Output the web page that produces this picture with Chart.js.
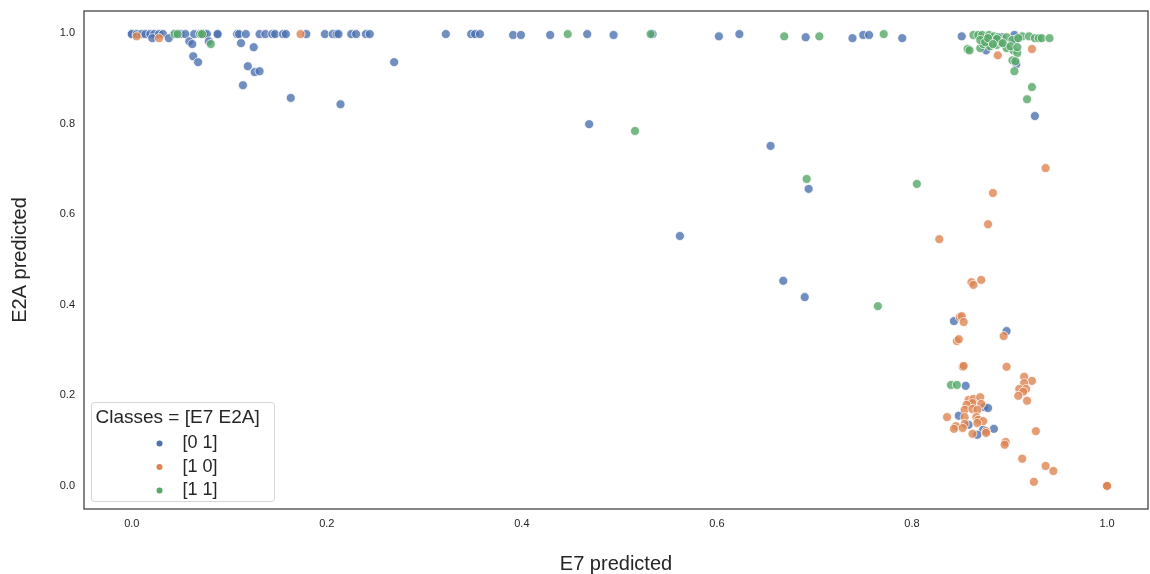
<!DOCTYPE html>
<html>
<head>
<meta charset="utf-8">
<script src="https://cdn.jsdelivr.net/npm/chart.js@4.4.1/dist/chart.umd.min.js"></script>
<style>
  html, body { margin: 0; padding: 0; background: #fff; }
  #wrap { width: 1150px; height: 574px; position: relative; }
</style>
</head>
<body>
<div id="wrap"><canvas id="chart"></canvas></div>
<script>
// class [0 1]
const e7_01 = [
  0.000, 0.000, 0.005, 0.010, 0.014, 0.019, 0.023, 0.028, 0.032, 0.043, 0.050, 0.055, 0.064, 0.074, 0.077,
  0.088, 0.088, 0.108, 0.110, 0.117, 0.131, 0.137, 0.144, 0.147, 0.155, 0.158, 0.179, 0.198, 0.206, 0.210,
  0.212, 0.225, 0.230, 0.240, 0.244, 0.322, 0.348, 0.352, 0.357, 0.391, 0.399, 0.429, 0.467, 0.494, 0.534,
  0.602, 0.623, 0.691, 0.739, 0.750, 0.756, 0.790, 0.851, 0.905, 0.881, 0.892, 0.906, 0.876, 0.907, 0.926,
  0.021, 0.038, 0.059, 0.062, 0.079, 0.112, 0.125, 0.063, 0.068, 0.119, 0.126, 0.131, 0.114, 0.163, 0.214,
  0.269, 0.469, 0.655, 0.694, 0.562, 0.668, 0.690,
  0.843, 0.897, 0.855, 0.874, 0.878, 0.848, 0.858, 0.873, 0.867, 0.884
];
const e2a_01 = [
  0.998, 0.998, 0.998, 0.998, 0.998, 0.998, 0.998, 0.998, 0.998, 0.998, 0.998, 0.998, 0.998, 0.998, 0.998,
  0.998, 0.998, 0.998, 0.998, 0.998, 0.998, 0.998, 0.998, 0.998, 0.998, 0.998, 0.998, 0.998, 0.998, 0.998,
  0.998, 0.998, 0.998, 0.998, 0.998, 0.998, 0.998, 0.998, 0.998, 0.996, 0.996, 0.996, 0.998, 0.996, 0.998,
  0.993, 0.998, 0.991, 0.989, 0.996, 0.996, 0.989, 0.993, 0.996, 0.989, 0.991, 0.985, 0.962, 0.932, 0.817,
  0.989, 0.989, 0.982, 0.976, 0.982, 0.978, 0.969, 0.949, 0.936, 0.927, 0.914, 0.916, 0.885, 0.857, 0.843,
  0.936, 0.799, 0.751, 0.656, 0.552, 0.453, 0.417,
  0.364, 0.342, 0.221, 0.174, 0.172, 0.155, 0.135, 0.124, 0.113, 0.126
];

// class [1 0]
const e7_10 = [
  0.005, 0.028, 0.173, 0.888, 0.923, 0.937, 0.883, 0.878, 0.828, 0.861, 0.863, 0.871,
  0.849, 0.851, 0.853, 0.894, 0.846, 0.848, 0.852, 0.853, 0.897,
  0.915, 0.923, 0.915, 0.910, 0.917, 0.914, 0.909, 0.918,
  0.858, 0.863, 0.870, 0.862, 0.856, 0.871, 0.854, 0.862, 0.867,
  0.836, 0.854, 0.866, 0.868, 0.873, 0.867, 0.854, 0.845, 0.843, 0.852, 0.876, 0.876, 0.862,
  0.927, 0.896, 0.895, 0.913, 0.937, 0.945, 0.925, 1.000, 1.000, 1.000
];
const e2a_10 = [
  0.993, 0.989, 0.998, 0.951, 0.965, 0.702, 0.647, 0.578, 0.545, 0.450, 0.444, 0.455,
  0.373, 0.375, 0.362, 0.331, 0.320, 0.324, 0.263, 0.265, 0.263,
  0.241, 0.232, 0.227, 0.214, 0.214, 0.208, 0.199, 0.188,
  0.190, 0.192, 0.196, 0.183, 0.179, 0.181, 0.168, 0.170, 0.168,
  0.152, 0.152, 0.152, 0.146, 0.143, 0.139, 0.137, 0.132, 0.126, 0.128, 0.121, 0.117, 0.115,
  0.121, 0.097, 0.091, 0.060, 0.044, 0.033, 0.009, 0.000, 0.000, 0.000
];

// class [1 1]
const e7_11 = [
  0.044, 0.047, 0.070, 0.072, 0.081, 0.447, 0.532, 0.516, 0.669, 0.705, 0.771, 0.692, 0.805, 0.765, 0.840, 0.846,
  0.857, 0.859, 0.870, 0.873, 0.880, 0.887, 0.892, 0.897, 0.904, 0.908, 0.903, 0.906, 0.905, 0.923, 0.918,
  0.863, 0.868, 0.872, 0.879, 0.884, 0.888, 0.897, 0.913, 0.920, 0.926, 0.930, 0.933, 0.941,
  0.870, 0.875, 0.878, 0.887, 0.903, 0.909, 0.883, 0.893, 0.901, 0.908
];
const e2a_11 = [
  0.998, 0.998, 0.998, 0.998, 0.976, 0.998, 0.998, 0.784, 0.993, 0.993, 0.998, 0.678, 0.667, 0.397, 0.223, 0.223,
  0.965, 0.962, 0.967, 0.976, 0.971, 0.974, 0.978, 0.967, 0.962, 0.956, 0.940, 0.938, 0.916, 0.881, 0.854,
  0.996, 0.996, 0.996, 0.996, 0.993, 0.991, 0.991, 0.993, 0.993, 0.989, 0.989, 0.989, 0.989,
  0.985, 0.980, 0.989, 0.987, 0.985, 0.989, 0.976, 0.978, 0.971, 0.969
];

const classNames = ["[0 1]", "[1 0]", "[1 1]"];
const classColors = ["#4C72B0", "#DD8452", "#55A868"];
const tickValues = [0.0, 0.2, 0.4, 0.6, 0.8, 1.0];

const FONT = '"Liberation Sans", Arial, sans-serif';
const TEXT = "#262626";

function toPoints(xs, ys) {
  return xs.map((x, i) => ({ x: x, y: ys[i] }));
}

function withAlpha(hex, a) {
  const n = parseInt(hex.slice(1), 16);
  return `rgba(${n >> 16}, ${(n >> 8) & 255}, ${n & 255}, ${a})`;
}

const series = [toPoints(e7_01, e2a_01), toPoints(e7_10, e2a_10), toPoints(e7_11, e2a_11)];

// box round the axes + legend in the lower left corner
const frameAndLegend = {
  id: "frameAndLegend",
  afterDraw(chart) {
    const { ctx, chartArea: a } = chart;
    ctx.save();
    ctx.strokeStyle = "#3d3d3d";
    ctx.lineWidth = 1.25;
    ctx.strokeRect(a.left, a.top, a.right - a.left, a.bottom - a.top);

    const bx = a.left + 7.5, by = a.bottom - 106.5, bw = 183, bh = 99;
    ctx.beginPath();
    ctx.roundRect(bx, by, bw, bh, 3);
    ctx.fillStyle = "rgba(255,255,255,0.8)";
    ctx.fill();
    ctx.strokeStyle = "rgba(204,204,204,0.8)";
    ctx.lineWidth = 1;
    ctx.stroke();

    ctx.fillStyle = TEXT;
    ctx.textBaseline = "middle";
    ctx.textAlign = "left";
    ctx.font = "19px " + FONT;
    ctx.fillText("Classes = [E7 E2A]", bx + 4, by + 15);
    ctx.font = "18px " + FONT;
    classNames.forEach((name, i) => {
      const y = by + 41 + i * 23.5;
      ctx.beginPath();
      ctx.arc(bx + 68, y, 3, 0, Math.PI * 2);
      ctx.fillStyle = classColors[i];
      ctx.fill();
      ctx.fillStyle = TEXT;
      ctx.fillText(name, bx + 91, y);
    });
    ctx.restore();
  }
};

new Chart(document.getElementById("chart"), {
  type: "scatter",
  data: {
    datasets: series.map((pts, i) => ({
      label: classNames[i],
      data: pts,
      order: 3 - i,
      pointRadius: 4.5,
      pointHoverRadius: 4.5,
      pointBackgroundColor: withAlpha(classColors[i], 0.8),
      pointBorderColor: "rgba(255,255,255,0.9)",
      pointBorderWidth: 0.8
    }))
  },
  options: {
    responsive: true,
    maintainAspectRatio: false,
    animation: false,
    layout: { autoPadding: false, padding: { top: 11, right: 2, left: 0, bottom: 0 } },
    plugins: {
      legend: { display: false },
      tooltip: { enabled: false }
    },
    scales: {
      x: {
        type: "linear",
        min: -0.049,
        max: 1.042,
        grid: { display: false, drawTicks: false },
        border: { display: false },
        afterFit: s => { s.height = 65; s.paddingLeft = 0; s.paddingRight = 0; },
        afterBuildTicks: s => { s.ticks = tickValues.map(v => ({ value: v })); },
        ticks: {
          padding: 8,
          color: TEXT,
          font: { family: FONT, size: 11 },
          callback: v => v.toFixed(1)
        },
        title: {
          display: true,
          text: "E7 predicted",
          color: TEXT,
          font: { family: FONT, size: 20, lineHeight: 1.0 },
          padding: { top: 0, bottom: 0 }
        }
      },
      y: {
        type: "linear",
        min: -0.051,
        max: 1.049,
        grid: { display: false, drawTicks: false },
        border: { display: false },
        afterFit: s => { s.width = 84; s.paddingTop = 0; s.paddingBottom = 0; },
        afterBuildTicks: s => { s.ticks = tickValues.map(v => ({ value: v })); },
        ticks: {
          padding: 9,
          color: TEXT,
          font: { family: FONT, size: 11 },
          callback: v => v.toFixed(1)
        },
        title: {
          display: true,
          text: "E2A predicted",
          color: TEXT,
          font: { family: FONT, size: 20 },
          padding: { top: 8, bottom: 0 }
        }
      }
    }
  },
  plugins: [frameAndLegend]
});
</script>
</body>
</html>
